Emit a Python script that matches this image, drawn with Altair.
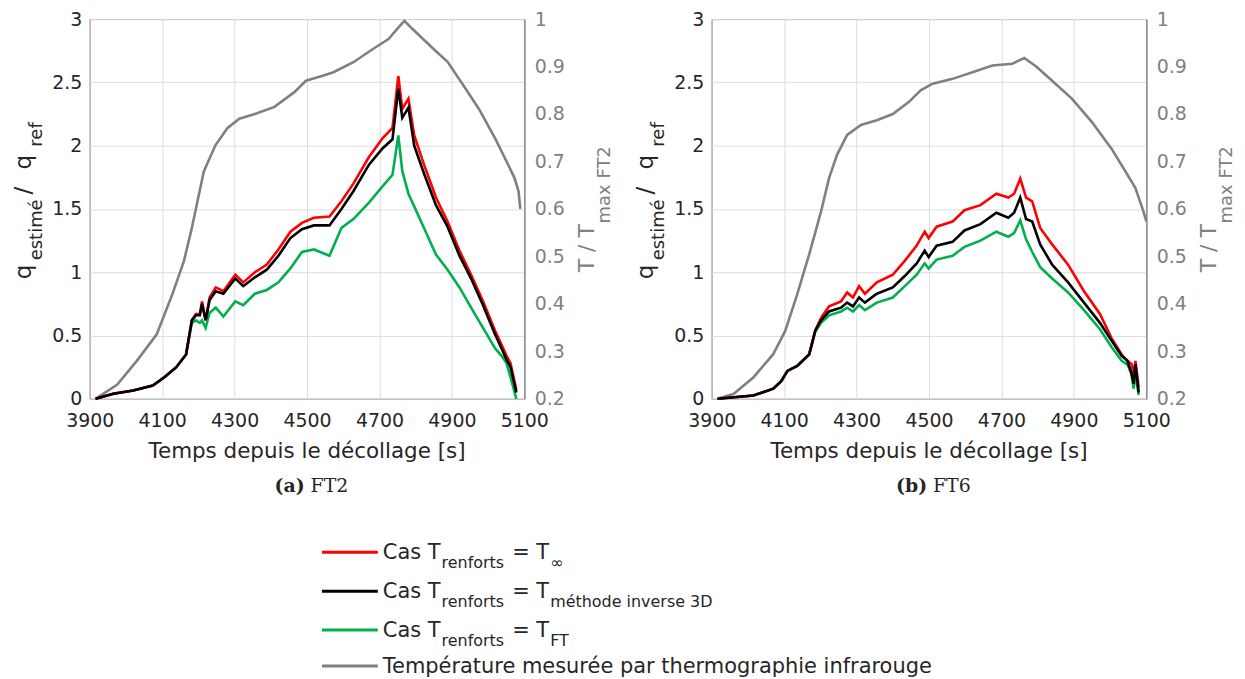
import altair as alt
import pandas as pd

# ---------------- data ----------------
XTICKS = [3900, 4100, 4300, 4500, 4700, 4900, 5100]
YTICKS_L = [0, 0.5, 1, 1.5, 2, 2.5, 3]
YTICKS_R = [0.2, 0.3, 0.4, 0.5, 0.6, 0.7, 0.8, 0.9, 1.0]

# FT2 : heat flux ratios
T2 = [3916, 3965, 4020, 4074, 4106, 4139, 4166, 4182, 4193, 4204, 4210, 4220, 4231, 4248, 4269,
      4302, 4324, 4356, 4389, 4421, 4454, 4486, 4519, 4562, 4595, 4628, 4671, 4709, 4736, 4752,
      4763, 4780, 4796, 4823, 4856, 4888, 4921, 4953, 4986, 5019, 5040, 5051, 5062, 5078]
RED2 = [0, 0.04, 0.065, 0.105, 0.17, 0.25, 0.35, 0.62, 0.67, 0.67, 0.77, 0.62, 0.80, 0.88, 0.85,
        0.98, 0.92, 1.00, 1.06, 1.18, 1.32, 1.39, 1.43, 1.44, 1.56, 1.70, 1.91, 2.06, 2.14, 2.55,
        2.29, 2.37, 2.08, 1.85, 1.59, 1.40, 1.17, 0.98, 0.77, 0.54, 0.41, 0.34, 0.28, 0.07]
BLACK2 = [0, 0.04, 0.065, 0.105, 0.17, 0.25, 0.35, 0.62, 0.66, 0.66, 0.75, 0.62, 0.78, 0.85, 0.83,
          0.95, 0.89, 0.96, 1.02, 1.13, 1.27, 1.34, 1.37, 1.37, 1.50, 1.64, 1.85, 1.98, 2.05, 2.45,
          2.22, 2.30, 2.00, 1.78, 1.53, 1.36, 1.13, 0.95, 0.74, 0.51, 0.38, 0.31, 0.25, 0.05]
GREEN2 = [0, 0.04, 0.065, 0.105, 0.17, 0.25, 0.35, 0.60, 0.62, 0.60, 0.62, 0.56, 0.68, 0.72, 0.65,
          0.77, 0.74, 0.83, 0.86, 0.92, 1.03, 1.16, 1.18, 1.13, 1.35, 1.42, 1.55, 1.68, 1.77, 2.08,
          1.80, 1.62, 1.52, 1.35, 1.14, 1.02, 0.88, 0.72, 0.56, 0.40, 0.33, 0.28, 0.17, 0.0]
# FT2 : measured temperature (right axis)
GT2 = [3916, 3976, 4030, 4085, 4128, 4160, 4182, 4193, 4215, 4247, 4280, 4313, 4356, 4410, 4465,
       4497, 4541, 4573, 4628, 4682, 4725, 4752, 4769, 4790, 4845, 4888, 4932, 4975, 5019, 5051,
       5073, 5084, 5089]
GRAY2 = [0.2, 0.23, 0.28, 0.336, 0.42, 0.49, 0.56, 0.60, 0.679, 0.734, 0.77, 0.79, 0.80, 0.815, 0.846,
         0.87, 0.88, 0.888, 0.909, 0.937, 0.958, 0.982, 0.996, 0.98, 0.94, 0.91, 0.86, 0.81, 0.749, 0.70,
         0.665, 0.637, 0.60]

# FT6 : heat flux ratios
T6 = [3916, 4015, 4070, 4092, 4109, 4136, 4169, 4186, 4202, 4224, 4257, 4274, 4290, 4307, 4323,
      4356, 4400, 4433, 4466, 4488, 4499, 4521, 4565, 4598, 4642, 4686, 4719, 4735, 4752, 4768,
      4785, 4807, 4840, 4884, 4928, 4972, 5004, 5032, 5048, 5059, 5065, 5070, 5079]
RED6 = [0, 0.026, 0.08, 0.14, 0.22, 0.26, 0.35, 0.54, 0.64, 0.73, 0.77, 0.84, 0.80, 0.89, 0.83,
        0.92, 0.98, 1.09, 1.21, 1.32, 1.27, 1.36, 1.40, 1.49, 1.53, 1.62, 1.59, 1.62, 1.74, 1.59,
        1.56, 1.35, 1.22, 1.06, 0.85, 0.67, 0.48, 0.35, 0.30, 0.275, 0.20, 0.30, 0.09]
BLACK6 = [0, 0.026, 0.08, 0.14, 0.22, 0.26, 0.35, 0.54, 0.62, 0.69, 0.72, 0.76, 0.73, 0.80, 0.76,
          0.83, 0.88, 0.97, 1.07, 1.17, 1.12, 1.21, 1.24, 1.33, 1.38, 1.47, 1.43, 1.47, 1.59, 1.42,
          1.40, 1.22, 1.06, 0.92, 0.76, 0.60, 0.46, 0.34, 0.30, 0.20, 0.12, 0.275, 0.05]
GREEN6 = [0, 0.026, 0.08, 0.14, 0.22, 0.26, 0.35, 0.53, 0.60, 0.66, 0.69, 0.72, 0.69, 0.74, 0.70,
          0.76, 0.80, 0.89, 0.98, 1.07, 1.03, 1.10, 1.13, 1.20, 1.25, 1.32, 1.28, 1.31, 1.41, 1.26,
          1.16, 1.04, 0.95, 0.84, 0.70, 0.55, 0.41, 0.30, 0.27, 0.20, 0.08, 0.20, 0.03]
# FT6 : measured temperature (right axis)
GT6 = [3916, 3960, 4015, 4070, 4103, 4136, 4169, 4202, 4224, 4246, 4274, 4312, 4356, 4400, 4444,
       4477, 4510, 4565, 4620, 4675, 4730, 4763, 4796, 4840, 4895, 4950, 5004, 5048, 5070, 5092, 5100]
GRAY6 = [0.2, 0.21, 0.245, 0.294, 0.343, 0.42, 0.504, 0.595, 0.665, 0.714, 0.756, 0.777, 0.787, 0.80, 0.825,
         0.85, 0.864, 0.874, 0.888, 0.902, 0.906, 0.918, 0.90, 0.87, 0.832, 0.783, 0.727, 0.672, 0.644,
         0.595, 0.574]

# ---------------- style ----------------
W, H = 436, 381
FONT = "DejaVu Sans"
SERIF = "DejaVu Serif"
TXT = "#262626"
RED, BLACK, GREEN, GRAYC = "#ff0000", "#000000", "#00b050", "#808080"
GRID = "#dddddd"
LW = 2.6

DJ = {' ': 0.318, '=': 0.838, '/': 0.337, 'C': 0.698, 'T': 0.611, 'F': 0.575, 'D': 0.770,
      '3': 0.636, '2': 0.636, 'a': 0.613, 'c': 0.550, 'd': 0.635, 'e': 0.615, 'é': 0.615,
      'f': 0.352, 'g': 0.635, 'h': 0.634, 'i': 0.278, 'l': 0.278, 'm': 0.974, 'n': 0.634,
      'o': 0.612, 'p': 0.635, 'q': 0.635, 'r': 0.411, 's': 0.521, 't': 0.392, 'u': 0.634,
      'v': 0.592, 'x': 0.592, '∞': 0.833, 'P': 0.603, 'y': 0.592}


def tw(s, size):
    return sum(DJ.get(c, 0.6) for c in s) * size


DUMMY = pd.DataFrame({"d": [0]})


def txt(s, x, y, size, color=TXT, angle=0, font=FONT, weight="normal", align="left",
        baseline="alphabetic"):
    kw = dict(text=s, fontSize=size, color=color, font=font, fontWeight=weight,
              align=align, baseline=baseline)
    if angle:
        kw["angle"] = angle
    return alt.Chart(DUMMY).mark_text(**kw).encode(x=alt.value(x), y=alt.value(y))


def panel(t, red, black, green, gt, gray, cap_b, cap_r):
    df = pd.DataFrame({"t": t, "red": red, "black": black, "green": green})
    dg = pd.DataFrame({"t": gt, "g": gray})
    xs = alt.Scale(domain=[3900, 5100], nice=False, zero=False)
    xax = alt.Axis(values=XTICKS, format="d", title=None, grid=True, gridColor=GRID,
                   ticks=False, domain=False, labelFont=FONT, labelFontSize=19,
                   labelColor=TXT, labelPadding=13, labelFlush=False)
    X = alt.X("t:Q", scale=xs, axis=xax)
    ls = alt.Scale(domain=[0, 3], nice=False, zero=False)
    lax = alt.Axis(values=YTICKS_L, format="~g", title=None, grid=True, gridColor=GRID,
                   ticks=False, domain=False, labelFont=FONT, labelFontSize=19,
                   labelColor=TXT, labelPadding=8, orient="left")
    rs = alt.Scale(domain=[0.2, 1], nice=False, zero=False)
    rax = alt.Axis(values=YTICKS_R, format="~g", title=None, grid=False, ticks=False,
                   domain=True, domainColor=GRAYC, labelFont=FONT, labelFontSize=19,
                   labelColor=GRAYC, labelPadding=10, orient="right")

    gray_line = alt.Chart(dg).mark_line(color=GRAYC, strokeWidth=LW).encode(
        x=X, y=alt.Y("g:Q", scale=rs, axis=rax))
    q_layers = alt.layer(*[
        alt.Chart(df).mark_line(color=c, strokeWidth=LW).encode(
            x=X, y=alt.Y(f"{f}:Q", scale=ls, axis=lax))
        for f, c in (("green", GREEN), ("red", RED), ("black", BLACK))
    ])

    texts = []
    # left title: q_estimé / q_ref (rotated)
    texts.append(txt("q", -59, 261, 23, angle=270))
    texts.append(txt("estimé", -48, 242, 18, angle=270))
    texts.append(txt("/", -59, 176, 23, angle=270))
    texts.append(txt("q", -59, 151, 23, angle=270))
    texts.append(txt("ref", -48, 128, 18, angle=270))
    # right title: T / T_max FT2
    texts.append(txt("T / T", W + 70, 254, 22, color=GRAYC, angle=270))
    texts.append(txt("max FT2", W + 86, 205, 18, color=GRAYC, angle=270))
    # x title
    texts.append(txt("Temps depuis le décollage [s]", W / 2, 440, 21.5, align="center"))
    # caption
    wb = (0.457 * 2 + (0.675 if cap_b == "(a)" else 0.716)) * 19
    wsp = 0.318 * 19
    wr = (0.720 + 0.704 + 0.636) * 19
    x0 = W / 2 + 5 - (wb + wsp + wr) / 2
    texts.append(txt(cap_b, x0, 474, 19, font=SERIF, weight="bold"))
    texts.append(txt(cap_r, x0 + wb + wsp, 474, 19, font=SERIF))

    return alt.layer(gray_line, q_layers, *texts).resolve_scale(y="independent").properties(
        width=W, height=H)


p1 = panel(T2, RED2, BLACK2, GREEN2, GT2, GRAY2, "(a)", "FT2")
p2 = panel(T6, RED6, BLACK6, GREEN6, GT6, GRAY6, "(b)", "FT6")

# ---------------- legend ----------------
LEG_ROWS = [
    (RED, [("Cas T", False), ("renforts", True), (" = T", False), ("∞", True)]),
    (BLACK, [("Cas T", False), ("renforts", True), (" = T", False), ("méthode inverse 3D", True)]),
    (GREEN, [("Cas T", False), ("renforts", True), (" = T", False), ("FT", True)]),
    (GRAYC, [("Température mesurée par thermographie infrarouge", False)]),
]
ROW_Y = [55, 94, 133, 169]
L0, L1, TX = 233, 289, 294
leg_layers = []
for (col, parts), ly in zip(LEG_ROWS, ROW_Y):
    leg_layers.append(alt.Chart(DUMMY).mark_rule(color=col, strokeWidth=3).encode(
        x=alt.value(L0), x2=alt.value(L1), y=alt.value(ly)))
    x = TX
    for s, sub in parts:
        size = 16 if sub else 21
        lead = len(s) - len(s.lstrip(" "))
        x += tw(" " * lead, size)
        body = s.lstrip(" ")
        leg_layers.append(txt(body, x, ly + (16 if sub else 7), size))
        x += tw(body, size) + 1
legend = alt.layer(*leg_layers).properties(
    width=940, height=180, view=alt.ViewBackground(stroke="transparent"))

chart = alt.vconcat(
    alt.hconcat(p1, p2, spacing=19),
    legend,
    spacing=0,
).properties(
    padding={"left": 4, "top": 0, "right": 0, "bottom": 0}
).configure_view(stroke=TXT, strokeWidth=1)

chart.save("out.html", embed_options={"renderer": "svg", "actions": False})
